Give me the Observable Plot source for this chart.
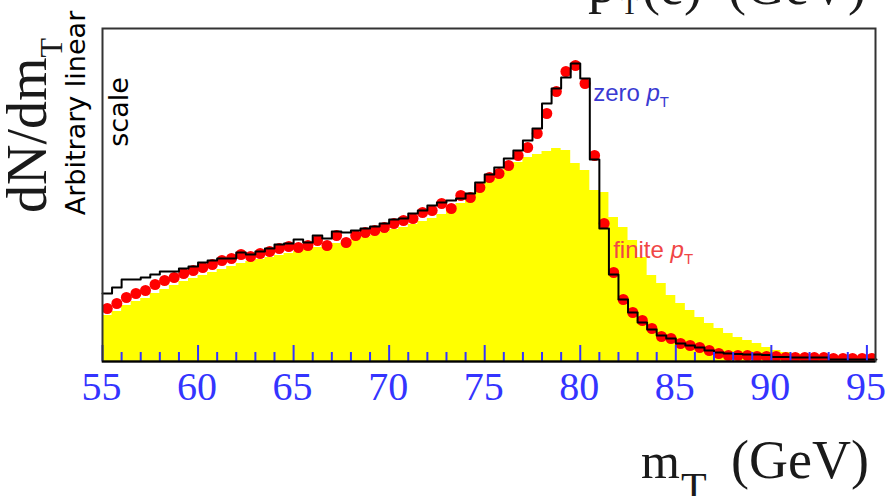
<!DOCTYPE html>
<html><head><meta charset="utf-8">
<script src="https://cdn.jsdelivr.net/npm/d3@7"></script>
<script src="https://cdn.jsdelivr.net/npm/@observablehq/plot@0.6"></script>
<style>html,body{margin:0;padding:0;background:#fff;overflow:hidden}svg{display:block}</style>
</head><body><div id="chart"></div>
<script>
// ---- data ----
const binWidth = 0.5;                       // GeV
const binStarts = d3.range(55, 95.5, 0.5);  // 55.0 ... 95.0 (81 bins)
// zero pT (black step histogram), arbitrary linear units
const zeroPt = [68,74,82,82,84,87,90,90,93,95,
  99,101,103,103,109,107,110,113,117,118,
  122,119,126,123,130,129,131,133,135,138,
  142,143,148,151,156,159,161,163,168,179,
  187,194,203,211,221,233,258,273,284,298,
  283,202,133,87,62,49,39,32,26,23,
  18,16,14,11,9,8,7.5,7,7,6.5,
  4.5,4.5,4,4,4,4,2,2,2,2,
  2];
// red points (bin centres)
const redPoints = [53,58,64,68,71,77,81,84,88,91,
  94,97,101,103,107,105,108,110,113,115,
  114,116,121,116,126,119,126,129,131,134,
  138,141,143,149,151,158,153,166,164,174,
  184,188,196,206,214,228,248,270,290,296,
  278,206,138,89,62,49,41,33,25,23,
  18,16,14,11,8,6,6,6,5,5,
  5,4,4,4,4,4,3,3,3,3,
  3];
// finite pT (yellow filled histogram)
const finitePt = [46,50,56,60,63,68,72,76,80,83,
  86,89,92,95,98,100,102,104,106,108,
  110,112,114,116,118,120,122,124,126,129,
  132,134,137,140,143,147,152,158,165,172,
  180,187,193,199,204,207,210,213,211,198,
  191,171,169,144,134,121,104,86,78,66,
  58,51,44,38,33,28,24,21,18,14,
  11,9,8,7,6,5,4,4,3,3,
  2];
const majorTicks = [55,60,65,70,75,80,85,90,95];
const minorTicks = d3.range(56, 96, 1).filter(d => d % 5 !== 0);
const annotations = [
  {label: "zero ", x: 80.7, y: 260, color: "#3a3ad2"},
  {label: "finite ", x: 81.75, y: 103, color: "#f04646"}
];

// ---- tables built from arrays ----
const stepOf = vals => binStarts.map((x, i) => ({x, y: vals[i]}))
  .concat([{x: binStarts[binStarts.length - 1] + binWidth, y: vals[vals.length - 1]}]);
const blackLine = stepOf(zeroPt);
const yellowArea = stepOf(finitePt);
const redData = binStarts.map((x, i) => ({x: x + binWidth / 2, y: redPoints[i]}));

const blue = "#3434ff";
const plot = Plot.plot({
  width: 885, height: 496,
  marginTop: 28, marginRight: 10, marginBottom: 135, marginLeft: 102,
  x: {domain: [55, 95.45], axis: null},
  y: {domain: [0, 333], axis: null},
  style: {background: "white"},
  marks: [
    Plot.areaY(yellowArea, {x: "x", y: "y", curve: "step-after", fill: "#ffff00"}),
    Plot.dot(redData, {x: "x", y: "y", r: 5.5, fill: "#ff0000", stroke: "none", clip: true}),
    Plot.line(blackLine, {x: "x", y: "y", curve: "step-after", stroke: "#000", strokeWidth: 2}),
    Plot.tickX(minorTicks, {x: d => d, stroke: blue, strokeWidth: 2, insetTop: 324}),
    Plot.tickX(majorTicks, {x: d => d, stroke: blue, strokeWidth: 2, insetTop: 317}),
    Plot.frame({stroke: "#333", strokeWidth: 2}),
    Plot.ruleY([0], {stroke: "#000", strokeWidth: 2}),
    Plot.axisX({ticks: majorTicks, tickSize: 0, tickPadding: 10, fontSize: 40, dx: -1,
      fontFamily: "Liberation Serif", color: blue, label: null, tickFormat: d => String(d)})
  ]
});
document.getElementById("chart").appendChild(plot);

const svg = d3.select(plot);
const sx = plot.scale("x"), sy = plot.scale("y");
const txt = (parent) => parent.append("text").attr("text-anchor", "start");

// annotations with italic p and subscript T
for (const a of annotations) {
  const t = txt(svg)
    .attr("x", sx.apply(a.x)).attr("y", sy.apply(a.y))
    .attr("font-family", "Liberation Sans").attr("font-size", 24).attr("fill", a.color);
  t.append("tspan").text(a.label);
  t.append("tspan").attr("font-style", "italic").text("p");
  t.append("tspan").attr("font-size", 15).attr("dy", 6).text("T");
}

// y-axis title
const gy = svg.append("g").attr("transform", "translate(46,213) rotate(-90)");
const ty = txt(gy).attr("font-family", "Liberation Serif").attr("font-size", 56).attr("fill", "#1a1a1a");
ty.append("tspan").text("dN/dm");
ty.append("tspan").attr("font-size", 32).attr("dy", 16).text("T");

svg.append("text").attr("transform", "translate(85,113) rotate(-90)")
  .attr("text-anchor", "middle").attr("font-family", "DejaVu Sans").attr("font-size", 27)
  .attr("fill", "#000").text("Arbitrary linear");
svg.append("text").attr("transform", "translate(128,112) rotate(-90)")
  .attr("text-anchor", "middle").attr("font-family", "DejaVu Sans").attr("font-size", 27)
  .attr("fill", "#000").text("scale");

// x-axis title
const serif = "Liberation Serif";
txt(svg).attr("x", 641).attr("y", 478).attr("font-family", serif).attr("font-size", 50).attr("fill", "#1a1a1a").text("m");
txt(svg).attr("x", 681).attr("y", 502).attr("font-family", serif).attr("font-size", 42).attr("fill", "#1a1a1a").text("T");
svg.append("text").attr("x", 869).attr("y", 478).attr("text-anchor", "end").attr("font-family", serif).attr("font-size", 54).attr("fill", "#1a1a1a").text("(GeV)");

// top title (only its lower part is visible)
txt(svg).attr("x", 588).attr("y", 2).attr("font-family", serif).attr("font-size", 56).attr("fill", "#1a1a1a").text("p");
txt(svg).attr("x", 621).attr("y", 14).attr("font-family", serif).attr("font-size", 28).attr("fill", "#1a1a1a").text("T");
txt(svg).attr("x", 642).attr("y", 4).attr("font-family", serif).attr("font-size", 54).attr("fill", "#1a1a1a").text("(e)");
svg.append("text").attr("x", 866).attr("y", 4).attr("text-anchor", "end").attr("font-family", serif).attr("font-size", 54).attr("fill", "#1a1a1a").text("(GeV)");
</script>
</body></html>
